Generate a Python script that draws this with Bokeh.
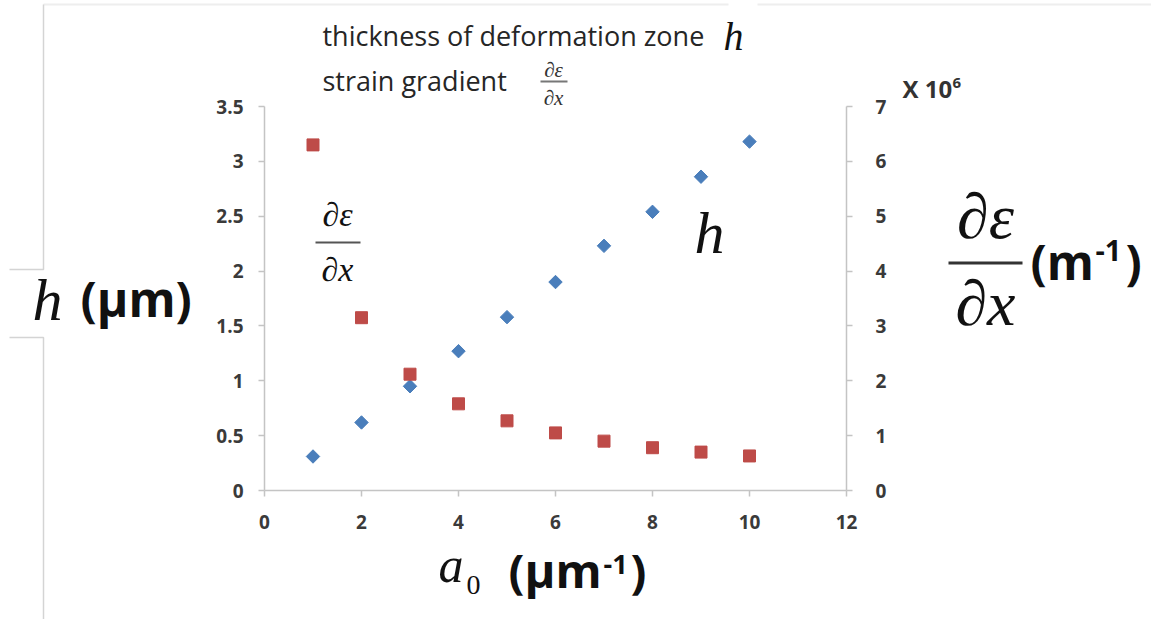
from bokeh.plotting import figure
from bokeh.models import Range1d, LinearAxis, Label, FixedTicker, ColumnDataSource
from bokeh.embed import file_html
from bokeh.resources import INLINE
import math

# a0 (µm^-1) for each run
a0 = [1, 2, 3, 4, 5, 6, 7, 8, 9, 10]
# thickness of deformation zone h (µm)
h_um = [0.31, 0.62, 0.95, 1.27, 1.58, 1.90, 2.23, 2.54, 2.86, 3.18]
# strain gradient dε/dx (×10^6 m^-1)
grad_e6 = [6.30, 3.15, 2.12, 1.58, 1.27, 1.05, 0.90, 0.78, 0.70, 0.63]

x_ticks = [0, 2, 4, 6, 8, 10, 12]
h_ticks = [0, 0.5, 1, 1.5, 2, 2.5, 3, 3.5]
g_ticks = [0, 1, 2, 3, 4, 5, 6, 7]

BLUE = "#4a7ebb"
RED = "#be4b48"
AXIS = "#c4c4c4"
TICK_TXT = "#3a3a3a"
SANS = "Open Sans"
SERIF = "Liberation Serif"
W, H = 1151, 619

# ---- data plot -------------------------------------------------------------
p = figure(width=W, height=H, output_backend="svg", toolbar_location=None,
           x_range=Range1d(0, 12), y_range=Range1d(0, 3.5),
           min_border_left=264, min_border_right=305,
           min_border_top=106, min_border_bottom=129)
p.outline_line_color = None
p.xgrid.visible = False
p.ygrid.visible = False
p.extra_y_ranges = {"grad": Range1d(0, 7)}

right = LinearAxis(y_range_name="grad")
p.add_layout(right, "right")


def style_axis(ax, ticks, standoff):
    ax.ticker = FixedTicker(ticks=ticks)
    ax.axis_line_color = AXIS
    ax.axis_line_width = 1.5
    ax.major_tick_line_color = AXIS
    ax.major_tick_line_width = 1.5
    ax.major_tick_out = 6
    ax.major_tick_in = 0
    ax.minor_tick_line_color = None
    ax.major_label_text_font = SANS
    ax.major_label_text_font_style = "bold"
    ax.major_label_text_font_size = "19px"
    ax.major_label_text_color = TICK_TXT
    ax.major_label_standoff = standoff


style_axis(p.xaxis[0], x_ticks, 18)
style_axis(p.yaxis[0], h_ticks, 15)
style_axis(right, g_ticks, 23)

src = ColumnDataSource(dict(a0=a0, h=h_um, g=grad_e6))
p.scatter("a0", "h", source=src, marker="square", angle=math.pi / 4,
          size=9.5, fill_color=BLUE, line_color=BLUE)
p.scatter("a0", "g", source=src, marker="square", size=12,
          fill_color=RED, line_color=RED, y_range_name="grad")

# ---- text layer laid over the whole page (page pixels, y downwards) --------
t = figure(width=W, height=H, output_backend="svg", toolbar_location=None,
           x_range=Range1d(0, W), y_range=Range1d(H, 0),
           x_axis_location=None, y_axis_location=None, min_border=0)
t.outline_line_color = None
t.background_fill_color = None
t.border_fill_color = None
t.xgrid.visible = False
t.ygrid.visible = False
t.styles = {"position": "absolute", "left": "0px", "top": "0px"}


def lab(text, x, y, size, font=SANS, style="normal", color="#111111", align="left"):
    # (x, y) is where the text baseline starts; the drawn baseline sits ~0.37em low
    t.add_layout(Label(x=x, y=y - 0.37 * size, text=text, text_font=font,
                       text_font_style=style, text_font_size=f"{size}px",
                       text_color=color, text_align=align,
                       text_baseline="alphabetic"))


def bar(x0, x1, y0, y1, color):
    t.quad(left=[x0], right=[x1], top=[y0], bottom=[y1],
           fill_color=color, line_color=None)


def rule(xs, ys, color, width=1.5):
    t.line(xs, ys, line_color=color, line_width=width)


# caption above the plot
lab("thickness of deformation zone", 322, 45, 27, color="#262626")
lab("h", 723, 51, 40, font=SERIF, style="italic")
lab("strain gradient", 322, 90, 27, color="#262626")
lab("\u2202\u03b5", 553, 77, 21, font=SERIF, style="italic", color="#333333", align="center")
bar(540, 567, 80, 82, "#777777")
lab("\u2202x", 553, 105, 21, font=SERIF, style="italic", color="#333333", align="center")

# series names inside the plot area
lab("h", 694, 255, 60, font=SERIF, style="italic")
lab("\u2202\u03b5", 337, 227, 34, font=SERIF, style="italic", align="center")
bar(315, 360, 241, 243, "#555555")
lab("\u2202x", 337, 282, 34, font=SERIF, style="italic", align="center")

# left axis title
lab("h", 32, 322, 60, font=SERIF, style="italic")
lab("(\u00b5m)", 80, 316, 48, style="bold")

# right axis title
lab("\u2202\u03b5", 985, 240, 64, font=SERIF, style="italic", align="center")
bar(948, 1022, 261, 264, "#333333")
lab("\u2202x", 985, 327, 64, font=SERIF, style="italic", align="center")
lab("(m", 1030, 279, 48, style="bold")
lab("-1", 1095, 261, 29, style="bold")
lab(")", 1125, 279, 48, style="bold")
lab("X 10", 902, 97, 24, style="bold", color="#333333")
lab("6", 952, 88, 15, style="bold", color="#333333")

# bottom axis title
lab("a", 438, 583, 50, font=SERIF, style="italic")
lab("0", 466, 595, 28, font=SERIF)
lab("(\u00b5m", 508, 587, 47, style="bold")
lab("-1", 603, 574, 27, style="bold")
lab(")", 630, 587, 47, style="bold")

# thin frame lines at the page edges
rule([43, 728], [4, 4], "#eeeeee", 2)
rule([757, W], [4, 4], "#eeeeee", 2)
rule([9, 43, 43], [269, 269, 4], "#d4d4d4")
rule([9, 43, 43], [337, 337, H], "#d4d4d4")

open("out.html", "w").write(file_html([p, t], INLINE))
